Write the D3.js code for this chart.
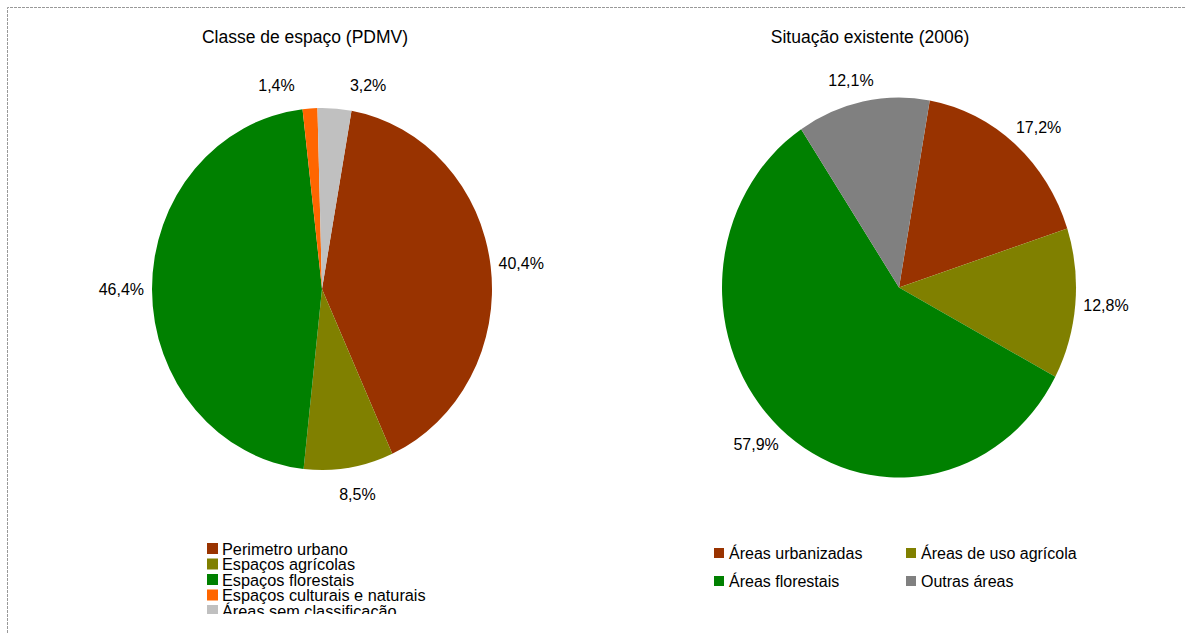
<!DOCTYPE html>
<html><head><meta charset="utf-8">
<script src="https://cdn.jsdelivr.net/npm/d3@7"></script>
<style>
html,body{margin:0;padding:0;background:#fff;}
svg{display:block;font-family:"Liberation Sans",Arial,sans-serif;}
</style></head>
<body>
<svg id="c" width="1186" height="633"></svg>
<script>
// ---- data ----
const leftTitle = "Classe de espaço (PDMV)";
const leftCategories = ["Perimetro urbano","Espaços agrícolas","Espaços florestais","Espaços culturais e naturais","Áreas sem classificação"];
const leftValues = [40.4, 8.5, 46.4, 1.4, 3.2];
const leftColors = ["#993300","#808000","#008000","#FF6600","#C0C0C0"];

const rightTitle = "Situação existente (2006)";
const rightCategories = ["Áreas urbanizadas","Áreas de uso agrícola","Áreas florestais","Outras áreas"];
const rightValues = [17.2, 12.8, 57.9, 12.1];
const rightColors = ["#993300","#808000","#008000","#808080"];

const fmt = v => d3.format(".1f")(v).replace(".", ",") + "%";

const svg = d3.select("#c");

// frame (dashed border)
svg.append("path")
  .attr("d", "M7.5,633 L7.5,7.5 L1186,7.5")
  .attr("fill","none").attr("stroke","#999").attr("stroke-width",1)
  .attr("stroke-dasharray","3,1");

function measure(txt, size){
  const t = svg.append("text").attr("font-size", size).text(txt);
  const w = t.node().getComputedTextLength();
  t.remove();
  return w;
}

function drawPie(opt){
  const {cx, cy, rx, ry, values, colors, title, titleX, startDeg, minGap, gy} = opt;
  const k = ry / rx;
  const start = startDeg * Math.PI / 180;
  const pie = d3.pie().sort(null).value(d => d)
    .startAngle(start).endAngle(start + 2*Math.PI);
  const arcs = pie(values);
  const arc = d3.arc().innerRadius(0).outerRadius(rx);

  svg.append("text").attr("x", titleX).attr("y", 43)
    .attr("text-anchor","middle").attr("font-size",17.5).attr("fill","#000")
    .text(title);

  const g = svg.append("g").attr("transform", `translate(${cx},${cy}) scale(1,${k})`);
  g.selectAll("path").data(arcs).join("path")
    .attr("d", arc).attr("fill", (d,i) => colors[i]);

  // labels (outside end)
  const fs = 16, h = 18, gx = 8;
  const labels = arcs.map((a,i) => {
    const txt = fmt(values[i]);
    return {txt, w: measure(txt, fs), ang: (a.startAngle + a.endAngle)/2};
  });
  const place = L => {
    const s = Math.sin(L.ang), c = Math.cos(L.ang);
    L.x = s*(rx+gx) + Math.sign(s)*Math.sqrt(Math.abs(s))*L.w/2;
    L.y = -c*(ry+gy) - c*h/2;
  };
  labels.forEach(place);
  // simple collision resolution: spread overlapping neighbours apart along the ring
  for (let it = 0; it < 400; it++){
    let moved = false;
    for (let i = 0; i < labels.length; i++){
      const A = labels[i], B = labels[(i+1) % labels.length];
      const vOverlap = Math.abs(A.y - B.y) < h;
      const gap = Math.abs(A.x - B.x) - (A.w + B.w)/2;
      if (vOverlap && gap < minGap){
        const d = 0.25*Math.PI/180;
        const dir = (B.x > A.x) ? 1 : -1;
        A.ang -= d*dir*(Math.cos(A.ang) > 0 ? 1 : -1);
        B.ang += d*dir*(Math.cos(B.ang) > 0 ? 1 : -1);
        place(A); place(B); moved = true;
      }
    }
    if (!moved) break;
  }
  svg.append("g").attr("transform", `translate(${cx},${cy})`)
    .selectAll("text").data(labels).join("text")
    .attr("x", d => d.x).attr("y", d => d.y)
    .attr("dy","0.35em").attr("text-anchor","middle")
    .attr("font-size", fs).attr("fill","#000")
    .text(d => d.txt);
}

drawPie({cx:322, cy:289, rx:170, ry:181, values:leftValues, colors:leftColors,
  title:leftTitle, titleX:305, startDeg:10, minGap:54, gy:18});
drawPie({cx:899, cy:287.5, rx:177, ry:190, values:rightValues, colors:rightColors,
  title:rightTitle, titleX:870, startDeg:10, minGap:20, gy:13});

// left legend (clipped at bottom like the original)
svg.append("defs").append("clipPath").attr("id","lclip")
  .append("rect").attr("x",190).attr("y",535).attr("width",300).attr("height",79);
const ly = d3.scalePoint().domain(leftCategories).range([549, 611]);
const ll = svg.append("g").attr("clip-path","url(#lclip)");
const li = ll.selectAll("g").data(leftCategories).join("g")
  .attr("transform", d => `translate(207,${ly(d)})`);
li.append("rect").attr("x",0).attr("y",-6).attr("width",11).attr("height",11)
  .attr("fill", (d,i) => leftColors[i]);
li.append("text").attr("x",15).attr("y",0).attr("dy","0.35em")
  .attr("font-size",16.3).attr("fill","#000").text(d => d);

// right legend (2 columns)
const rcol = d3.scaleOrdinal().domain([0,1]).range([714, 906]);
const rrow = d3.scaleOrdinal().domain([0,1]).range([553, 581]);
const ri = svg.append("g").selectAll("g").data(rightCategories).join("g")
  .attr("transform", (d,i) => `translate(${rcol(i%2)},${rrow(Math.floor(i/2))})`);
ri.append("rect").attr("x",0).attr("y",-5).attr("width",10).attr("height",10)
  .attr("fill", (d,i) => rightColors[i]);
ri.append("text").attr("x",15).attr("y",0).attr("dy","0.35em")
  .attr("font-size",16).attr("fill","#000").text(d => d);
</script>
</body></html>
